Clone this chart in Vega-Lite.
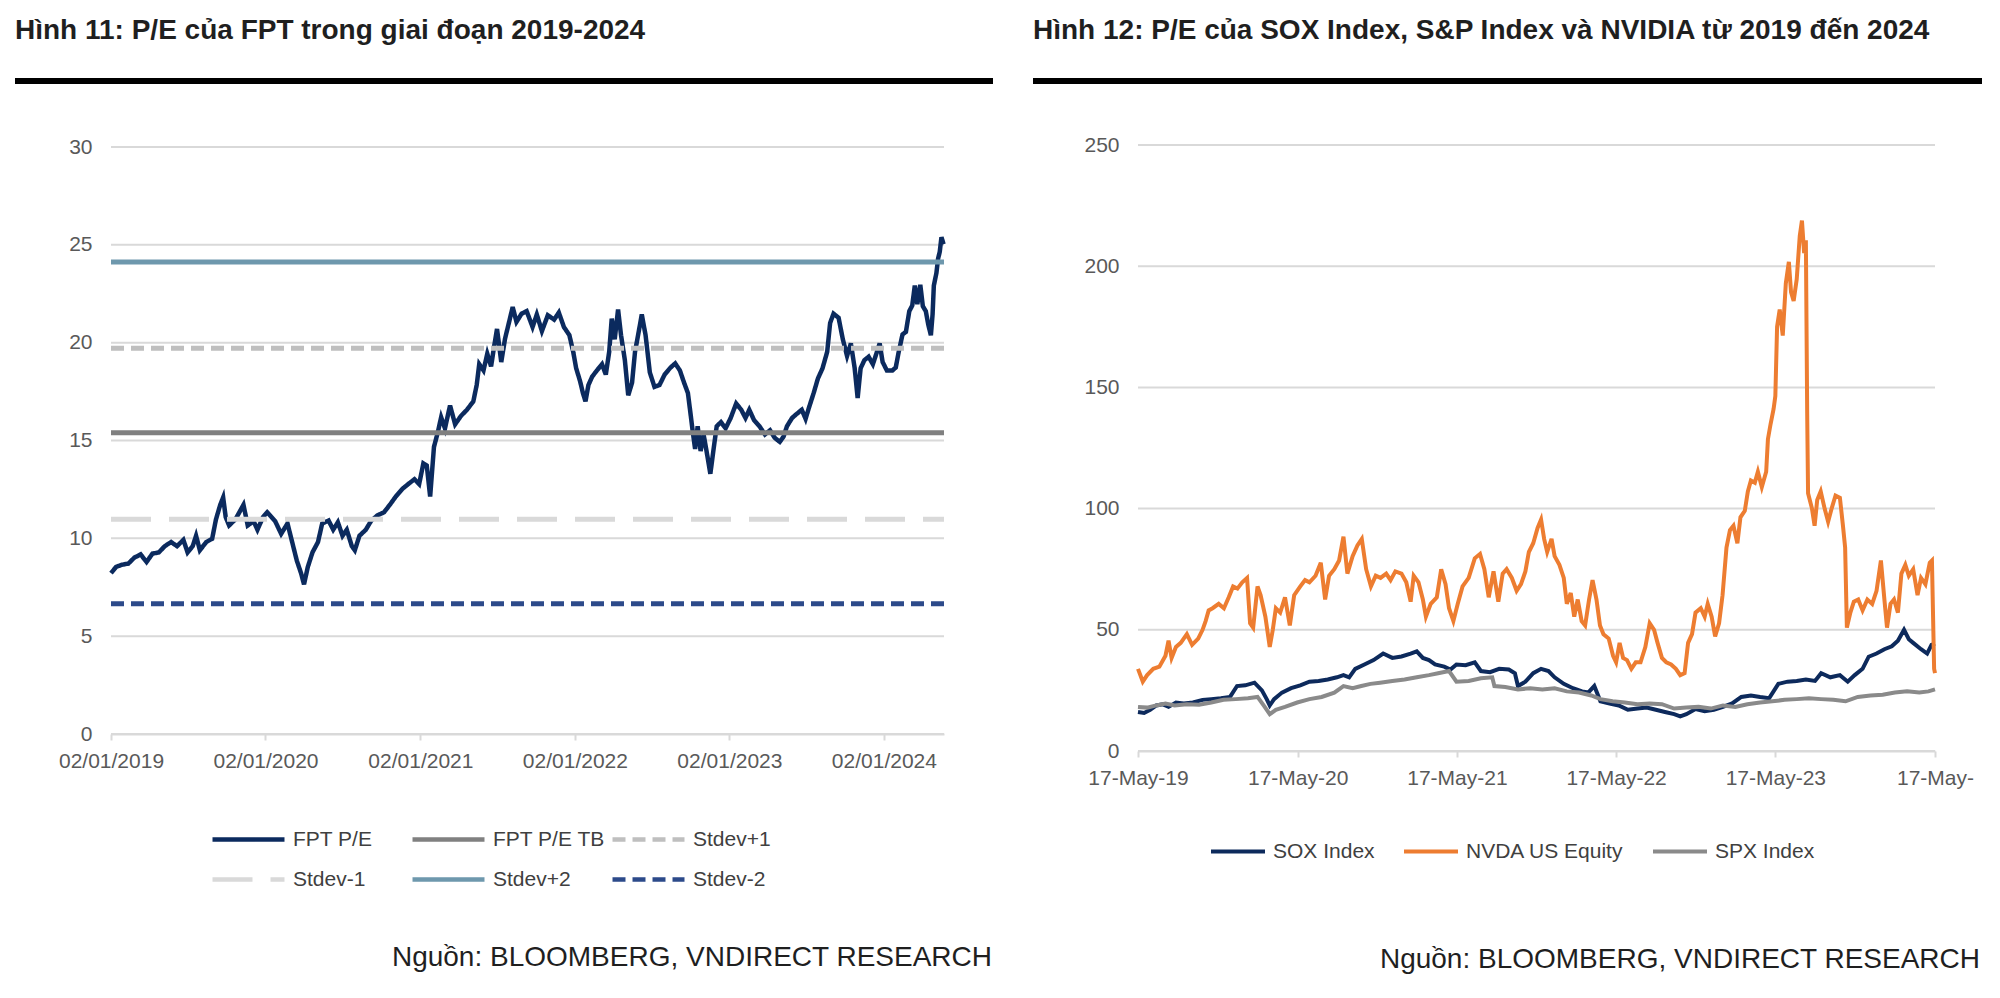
{
  "$schema": "https://vega.github.io/schema/vega-lite/v6.json",
  "background": "#ffffff",
  "padding": {"left": 15, "top": 17, "right": 5, "bottom": 0},
  "config": {
    "font": "Liberation Sans",
    "view": {"stroke": null},
    "axis": {"labelFont": "Liberation Sans", "labelFontSize": 21, "labelColor": "#595959", "title": null, "grid": false, "domainColor": "#d9d9d9", "domainWidth": 2, "tickColor": "#d9d9d9", "tickWidth": 2, "tickSize": 6},
    "axisY": {"domain": false, "ticks": false, "tickSize": 0, "labelPadding": 19},
    "axisX": {"labelPadding": 10, "labelFlush": false, "labelOverlap": false},
    "legend": {"labelFont": "Liberation Sans", "labelFontSize": 21, "labelColor": "#404040", "symbolType": "stroke", "title": null, "labelOffset": 6, "clipHeight": 21, "orient": "none", "direction": "horizontal"},
    "title": {"font": "Liberation Sans", "color": "#1f1f1f"}
  },
  "resolve": {"scale": {"color": "independent", "strokeDash": "independent"}, "legend": {"color": "independent", "strokeDash": "independent"}},
  "spacing": 40,
  "hconcat": [
    {
      "concat": [
        {
          "width": 978,
          "height": 6,
          "title": {"text": "Hình 11: P/E của FPT trong giai đoạn 2019-2024", "anchor": "start", "frame": "group", "fontSize": 28, "fontWeight": "bold", "offset": 33},
          "data": {"values": [{"k": 1}]},
          "mark": {"type": "rect", "color": "#000000"},
          "encoding": {}
        },
        {
          "width": 978,
          "height": 587,
          "title": {"text": "Nguồn: BLOOMBERG, VNDIRECT RESEARCH", "orient": "bottom", "anchor": "end", "frame": "group", "dx": -1, "offset": 173, "fontSize": 28, "fontWeight": "normal"},
          "layer": [
            {
              "data": {"values": [{"grid": 0}, {"grid": 5}, {"grid": 10}, {"grid": 15}, {"grid": 20}, {"grid": 25}, {"grid": 30}]},
              "mark": {"type": "rule", "color": "#d9d9d9", "strokeWidth": 2},
              "encoding": {
                "y": {"field": "grid", "type": "quantitative"},
                "x": {"datum": {"year": 2019, "month": 1, "date": 2, "utc": true}, "type": "temporal"},
                "x2": {"datum": {"year": 2024, "month": 5, "date": 23, "utc": true}}
              }
            },
            {
              "data": {"values": [
                {"date":"2019-01-02","series":"FPT P/E","pe":8.22},{"date":"2019-01-14","series":"FPT P/E","pe":8.54},{"date":"2019-01-28","series":"FPT P/E","pe":8.65},{"date":"2019-02-12","series":"FPT P/E","pe":8.71},{"date":"2019-02-26","series":"FPT P/E","pe":9.01},{"date":"2019-03-13","series":"FPT P/E","pe":9.18},{"date":"2019-03-27","series":"FPT P/E","pe":8.79},{"date":"2019-04-10","series":"FPT P/E","pe":9.22},{"date":"2019-04-25","series":"FPT P/E","pe":9.28},{"date":"2019-05-09","series":"FPT P/E","pe":9.60},{"date":"2019-05-24","series":"FPT P/E","pe":9.81},{"date":"2019-06-07","series":"FPT P/E","pe":9.60},{"date":"2019-06-22","series":"FPT P/E","pe":9.92},{"date":"2019-07-02","series":"FPT P/E","pe":9.28},{"date":"2019-07-14","series":"FPT P/E","pe":9.60},{"date":"2019-07-22","series":"FPT P/E","pe":10.13},{"date":"2019-07-31","series":"FPT P/E","pe":9.39},{"date":"2019-08-15","series":"FPT P/E","pe":9.81},{"date":"2019-08-29","series":"FPT P/E","pe":9.98},{"date":"2019-09-07","series":"FPT P/E","pe":10.97},{"date":"2019-09-17","series":"FPT P/E","pe":11.71},{"date":"2019-09-24","series":"FPT P/E","pe":12.09},{"date":"2019-09-30","series":"FPT P/E","pe":11.08},{"date":"2019-10-08","series":"FPT P/E","pe":10.66},{"date":"2019-10-23","series":"FPT P/E","pe":10.97},{"date":"2019-11-11","series":"FPT P/E","pe":11.71},{"date":"2019-11-21","series":"FPT P/E","pe":10.66},{"date":"2019-12-05","series":"FPT P/E","pe":10.87},{"date":"2019-12-14","series":"FPT P/E","pe":10.44},{"date":"2019-12-27","series":"FPT P/E","pe":11.08},
                {"date":"2020-01-06","series":"FPT P/E","pe":11.33},{"date":"2020-01-25","series":"FPT P/E","pe":10.87},{"date":"2020-02-08","series":"FPT P/E","pe":10.23},{"date":"2020-02-23","series":"FPT P/E","pe":10.76},{"date":"2020-03-05","series":"FPT P/E","pe":9.81},{"date":"2020-03-16","series":"FPT P/E","pe":8.86},{"date":"2020-03-26","series":"FPT P/E","pe":8.22},{"date":"2020-04-02","series":"FPT P/E","pe":7.65},{"date":"2020-04-11","series":"FPT P/E","pe":8.54},{"date":"2020-04-22","series":"FPT P/E","pe":9.28},{"date":"2020-05-05","series":"FPT P/E","pe":9.81},{"date":"2020-05-15","series":"FPT P/E","pe":10.76},{"date":"2020-05-30","series":"FPT P/E","pe":10.91},{"date":"2020-06-10","series":"FPT P/E","pe":10.44},{"date":"2020-06-21","series":"FPT P/E","pe":10.82},{"date":"2020-07-02","series":"FPT P/E","pe":10.13},{"date":"2020-07-12","series":"FPT P/E","pe":10.44},{"date":"2020-07-24","series":"FPT P/E","pe":9.60},{"date":"2020-07-31","series":"FPT P/E","pe":9.39},{"date":"2020-08-11","series":"FPT P/E","pe":10.13},{"date":"2020-08-26","series":"FPT P/E","pe":10.44},{"date":"2020-09-08","series":"FPT P/E","pe":10.91},{"date":"2020-09-23","series":"FPT P/E","pe":11.18},{"date":"2020-10-08","series":"FPT P/E","pe":11.33},{"date":"2020-10-23","series":"FPT P/E","pe":11.75},{"date":"2020-11-05","series":"FPT P/E","pe":12.14},{"date":"2020-11-20","series":"FPT P/E","pe":12.52},{"date":"2020-12-04","series":"FPT P/E","pe":12.77},{"date":"2020-12-19","series":"FPT P/E","pe":13.02},{"date":"2020-12-30","series":"FPT P/E","pe":12.77},
                {"date":"2021-01-09","series":"FPT P/E","pe":13.83},{"date":"2021-01-17","series":"FPT P/E","pe":13.72},{"date":"2021-01-25","series":"FPT P/E","pe":12.14},{"date":"2021-02-03","series":"FPT P/E","pe":14.67},{"date":"2021-02-12","series":"FPT P/E","pe":15.41},{"date":"2021-02-20","series":"FPT P/E","pe":16.19},{"date":"2021-03-01","series":"FPT P/E","pe":15.62},{"date":"2021-03-13","series":"FPT P/E","pe":16.79},{"date":"2021-03-25","series":"FPT P/E","pe":15.83},{"date":"2021-04-08","series":"FPT P/E","pe":16.26},{"date":"2021-04-22","series":"FPT P/E","pe":16.57},{"date":"2021-05-07","series":"FPT P/E","pe":17.00},{"date":"2021-05-15","series":"FPT P/E","pe":17.84},{"date":"2021-05-21","series":"FPT P/E","pe":18.90},{"date":"2021-05-31","series":"FPT P/E","pe":18.58},{"date":"2021-06-09","series":"FPT P/E","pe":19.43},{"date":"2021-06-18","series":"FPT P/E","pe":18.79},{"date":"2021-06-25","series":"FPT P/E","pe":19.79},{"date":"2021-07-02","series":"FPT P/E","pe":20.70},{"date":"2021-07-12","series":"FPT P/E","pe":19.01},{"date":"2021-07-21","series":"FPT P/E","pe":20.21},{"date":"2021-07-30","series":"FPT P/E","pe":21.01},{"date":"2021-08-08","series":"FPT P/E","pe":21.82},{"date":"2021-08-17","series":"FPT P/E","pe":21.06},{"date":"2021-08-29","series":"FPT P/E","pe":21.48},{"date":"2021-09-10","series":"FPT P/E","pe":21.61},{"date":"2021-09-24","series":"FPT P/E","pe":20.80},{"date":"2021-10-04","series":"FPT P/E","pe":21.44},{"date":"2021-10-16","series":"FPT P/E","pe":20.59},{"date":"2021-10-30","series":"FPT P/E","pe":21.40},{"date":"2021-11-14","series":"FPT P/E","pe":21.18},{"date":"2021-11-25","series":"FPT P/E","pe":21.54},{"date":"2021-12-07","series":"FPT P/E","pe":20.80},{"date":"2021-12-20","series":"FPT P/E","pe":20.38},{"date":"2021-12-29","series":"FPT P/E","pe":19.53},
                {"date":"2022-01-05","series":"FPT P/E","pe":18.69},{"date":"2022-01-14","series":"FPT P/E","pe":18.05},{"date":"2022-01-21","series":"FPT P/E","pe":17.42},{"date":"2022-01-27","series":"FPT P/E","pe":17.00},{"date":"2022-02-03","series":"FPT P/E","pe":17.84},{"date":"2022-02-12","series":"FPT P/E","pe":18.27},{"date":"2022-02-23","series":"FPT P/E","pe":18.58},{"date":"2022-03-07","series":"FPT P/E","pe":18.90},{"date":"2022-03-16","series":"FPT P/E","pe":18.37},{"date":"2022-03-24","series":"FPT P/E","pe":19.53},{"date":"2022-03-30","series":"FPT P/E","pe":21.23},{"date":"2022-04-06","series":"FPT P/E","pe":20.17},{"date":"2022-04-14","series":"FPT P/E","pe":21.69},{"date":"2022-04-21","series":"FPT P/E","pe":20.38},{"date":"2022-04-30","series":"FPT P/E","pe":19.11},{"date":"2022-05-08","series":"FPT P/E","pe":17.31},{"date":"2022-05-17","series":"FPT P/E","pe":17.95},{"date":"2022-05-24","series":"FPT P/E","pe":19.53},{"date":"2022-06-02","series":"FPT P/E","pe":20.59},{"date":"2022-06-09","series":"FPT P/E","pe":21.44},{"date":"2022-06-18","series":"FPT P/E","pe":20.38},{"date":"2022-06-28","series":"FPT P/E","pe":18.48},{"date":"2022-07-09","series":"FPT P/E","pe":17.74},{"date":"2022-07-21","series":"FPT P/E","pe":17.84},{"date":"2022-08-02","series":"FPT P/E","pe":18.37},{"date":"2022-08-16","series":"FPT P/E","pe":18.73},{"date":"2022-08-27","series":"FPT P/E","pe":18.94},{"date":"2022-09-07","series":"FPT P/E","pe":18.58},{"date":"2022-09-17","series":"FPT P/E","pe":17.95},{"date":"2022-09-26","series":"FPT P/E","pe":17.42},{"date":"2022-10-01","series":"FPT P/E","pe":16.57},{"date":"2022-10-07","series":"FPT P/E","pe":15.52},{"date":"2022-10-13","series":"FPT P/E","pe":14.57},{"date":"2022-10-19","series":"FPT P/E","pe":15.73},{"date":"2022-10-26","series":"FPT P/E","pe":14.46},{"date":"2022-11-02","series":"FPT P/E","pe":15.31},{"date":"2022-11-09","series":"FPT P/E","pe":14.46},{"date":"2022-11-18","series":"FPT P/E","pe":13.30},{"date":"2022-11-25","series":"FPT P/E","pe":14.46},{"date":"2022-12-03","series":"FPT P/E","pe":15.73},{"date":"2022-12-13","series":"FPT P/E","pe":15.94},{"date":"2022-12-24","series":"FPT P/E","pe":15.62},
                {"date":"2023-01-05","series":"FPT P/E","pe":16.15},{"date":"2023-01-18","series":"FPT P/E","pe":16.89},{"date":"2023-01-30","series":"FPT P/E","pe":16.57},{"date":"2023-02-09","series":"FPT P/E","pe":16.15},{"date":"2023-02-18","series":"FPT P/E","pe":16.57},{"date":"2023-03-01","series":"FPT P/E","pe":16.05},{"date":"2023-03-14","series":"FPT P/E","pe":15.73},{"date":"2023-03-27","series":"FPT P/E","pe":15.31},{"date":"2023-04-08","series":"FPT P/E","pe":15.52},{"date":"2023-04-19","series":"FPT P/E","pe":15.14},{"date":"2023-05-01","series":"FPT P/E","pe":14.93},{"date":"2023-05-10","series":"FPT P/E","pe":15.20},{"date":"2023-05-18","series":"FPT P/E","pe":15.73},{"date":"2023-05-30","series":"FPT P/E","pe":16.15},{"date":"2023-06-10","series":"FPT P/E","pe":16.36},{"date":"2023-06-22","series":"FPT P/E","pe":16.57},{"date":"2023-07-01","series":"FPT P/E","pe":16.11},{"date":"2023-07-09","series":"FPT P/E","pe":16.68},{"date":"2023-07-20","series":"FPT P/E","pe":17.42},{"date":"2023-07-30","series":"FPT P/E","pe":18.16},{"date":"2023-08-10","series":"FPT P/E","pe":18.69},{"date":"2023-08-21","series":"FPT P/E","pe":19.53},{"date":"2023-08-28","series":"FPT P/E","pe":21.01},{"date":"2023-09-05","series":"FPT P/E","pe":21.48},{"date":"2023-09-17","series":"FPT P/E","pe":21.27},{"date":"2023-09-27","series":"FPT P/E","pe":20.17},{"date":"2023-10-07","series":"FPT P/E","pe":19.32},{"date":"2023-10-16","series":"FPT P/E","pe":19.96},{"date":"2023-10-25","series":"FPT P/E","pe":18.69},{"date":"2023-11-01","series":"FPT P/E","pe":17.17},{"date":"2023-11-08","series":"FPT P/E","pe":18.69},{"date":"2023-11-17","series":"FPT P/E","pe":19.11},{"date":"2023-11-27","series":"FPT P/E","pe":19.28},{"date":"2023-12-07","series":"FPT P/E","pe":18.90},{"date":"2023-12-16","series":"FPT P/E","pe":19.49},{"date":"2023-12-23","series":"FPT P/E","pe":19.96},{"date":"2023-12-30","series":"FPT P/E","pe":19.01},
                {"date":"2024-01-09","series":"FPT P/E","pe":18.58},{"date":"2024-01-22","series":"FPT P/E","pe":18.58},{"date":"2024-01-30","series":"FPT P/E","pe":18.73},{"date":"2024-02-06","series":"FPT P/E","pe":19.53},{"date":"2024-02-15","series":"FPT P/E","pe":20.42},{"date":"2024-02-23","series":"FPT P/E","pe":20.55},{"date":"2024-03-02","series":"FPT P/E","pe":21.61},{"date":"2024-03-09","series":"FPT P/E","pe":21.90},{"date":"2024-03-15","series":"FPT P/E","pe":22.92},{"date":"2024-03-21","series":"FPT P/E","pe":21.97},{"date":"2024-03-28","series":"FPT P/E","pe":22.96},{"date":"2024-04-03","series":"FPT P/E","pe":21.86},{"date":"2024-04-10","series":"FPT P/E","pe":21.61},{"date":"2024-04-16","series":"FPT P/E","pe":20.91},{"date":"2024-04-22","series":"FPT P/E","pe":20.38},{"date":"2024-04-26","series":"FPT P/E","pe":21.44},{"date":"2024-04-29","series":"FPT P/E","pe":22.92},{"date":"2024-05-05","series":"FPT P/E","pe":23.55},{"date":"2024-05-09","series":"FPT P/E","pe":24.29},{"date":"2024-05-13","series":"FPT P/E","pe":24.65},{"date":"2024-05-17","series":"FPT P/E","pe":25.39},{"date":"2024-05-22","series":"FPT P/E","pe":25.03}
              ]},
              "mark": {"type": "line", "strokeWidth": 4.5},
              "encoding": {
                "x": {"field": "date", "type": "temporal",
                      "scale": {"type": "utc", "range": [96, 929], "domain": [{"year": 2019, "month": 1, "date": 2, "utc": true}, {"year": 2024, "month": 5, "date": 23, "utc": true}]},
                      "axis": {"format": "%d/%m/%Y", "values": [{"year": 2019, "month": 1, "date": 2, "utc": true}, {"year": 2020, "month": 1, "date": 2, "utc": true}, {"year": 2021, "month": 1, "date": 2, "utc": true}, {"year": 2022, "month": 1, "date": 2, "utc": true}, {"year": 2023, "month": 1, "date": 2, "utc": true}, {"year": 2024, "month": 1, "date": 2, "utc": true}]}},
                "y": {"field": "pe", "type": "quantitative", "scale": {"domain": [0, 30], "nice": false}, "axis": {"values": [0, 5, 10, 15, 20, 25, 30], "offset": -96}},
                "color": {"field": "series", "type": "nominal",
                          "scale": {"domain": ["FPT P/E", "FPT P/E TB", "Stdev+1", "Stdev-1", "Stdev+2", "Stdev-2"], "range": ["#0b2a5e", "#808080", "#bfbfbf", "#d9d9d9", "#6e98ad", "#2c4a8a"]},
                          "legend": {"columns": 3, "gridAlign": "all", "columnPadding": 4, "rowPadding": 18, "symbolSize": 5184, "symbolStrokeWidth": 4.5, "legendX": 195, "legendY": 751}},
                "strokeDash": {"field": "series", "type": "nominal",
                          "scale": {"domain": ["FPT P/E", "FPT P/E TB", "Stdev+1", "Stdev-1", "Stdev+2", "Stdev-2"], "range": [[1, 0], [1, 0], [13, 7], [40, 18], [1, 0], [13, 7]]},
                          "legend": {"columns": 3, "gridAlign": "all", "columnPadding": 4, "rowPadding": 18, "symbolSize": 5184, "symbolStrokeWidth": 4.5, "legendX": 195, "legendY": 751}}
              }
            },
            {
              "data": {"values": [
                {"series": "FPT P/E TB", "pe": 15.39},
                {"series": "Stdev+1", "pe": 19.72},
                {"series": "Stdev-1", "pe": 10.97},
                {"series": "Stdev+2", "pe": 24.12},
                {"series": "Stdev-2", "pe": 6.66}
              ]},
              "mark": {"type": "rule", "strokeWidth": 5},
              "encoding": {
                "y": {"field": "pe", "type": "quantitative"},
                "x": {"datum": {"year": 2019, "month": 1, "date": 2, "utc": true}, "type": "temporal"},
                "x2": {"datum": {"year": 2024, "month": 5, "date": 23, "utc": true}},
                "color": {"field": "series", "type": "nominal"},
                "strokeDash": {"field": "series", "type": "nominal"}
              }
            }
          ]
        }
      ],
      "columns": 1,
      "align": "none",
      "spacing": 52
    },
    {
      "concat": [
        {
          "width": 949,
          "height": 6,
          "title": {"text": "Hình 12: P/E của SOX Index, S&P Index và NVIDIA từ 2019 đến 2024", "anchor": "start", "frame": "group", "fontSize": 28, "fontWeight": "bold", "offset": 33},
          "data": {"values": [{"k": 1}]},
          "mark": {"type": "rect", "color": "#000000"},
          "encoding": {}
        },
        {
          "width": 949,
          "height": 606,
          "title": {"text": "Nguồn: BLOOMBERG, VNDIRECT RESEARCH", "orient": "bottom", "anchor": "end", "frame": "group", "dx": -2, "offset": 158, "fontSize": 28, "fontWeight": "normal"},
          "layer": [
            {
              "data": {"values": [{"grid": 0}, {"grid": 50}, {"grid": 100}, {"grid": 150}, {"grid": 200}, {"grid": 250}]},
              "mark": {"type": "rule", "color": "#d9d9d9", "strokeWidth": 2},
              "encoding": {
                "y": {"field": "grid", "type": "quantitative"},
                "x": {"datum": {"year": 2019, "month": 5, "date": 17, "utc": true}, "type": "temporal"},
                "x2": {"datum": {"year": 2024, "month": 5, "date": 17, "utc": true}}
              }
            },
            {
              "data": {"values": [
                {"date":"2019-05-17","series":"SOX Index","pe":16.1},{"date":"2019-05-31","series":"SOX Index","pe":15.7},{"date":"2019-06-14","series":"SOX Index","pe":17.0},{"date":"2019-06-28","series":"SOX Index","pe":18.8},{"date":"2019-07-12","series":"SOX Index","pe":19.3},{"date":"2019-07-26","series":"SOX Index","pe":18.2},{"date":"2019-08-12","series":"SOX Index","pe":20.0},{"date":"2019-08-30","series":"SOX Index","pe":19.6},{"date":"2019-09-20","series":"SOX Index","pe":20.0},{"date":"2019-10-12","series":"SOX Index","pe":21.1},{"date":"2019-11-01","series":"SOX Index","pe":21.4},{"date":"2019-11-23","series":"SOX Index","pe":21.8},{"date":"2019-12-14","series":"SOX Index","pe":22.3},{"date":"2019-12-30","series":"SOX Index","pe":26.8},{"date":"2020-01-18","series":"SOX Index","pe":27.1},{"date":"2020-02-08","series":"SOX Index","pe":28.2},{"date":"2020-02-25","series":"SOX Index","pe":25.0},{"date":"2020-03-07","series":"SOX Index","pe":21.4},{"date":"2020-03-14","series":"SOX Index","pe":18.8},{"date":"2020-03-24","series":"SOX Index","pe":21.4},{"date":"2020-04-11","series":"SOX Index","pe":24.1},{"date":"2020-05-02","series":"SOX Index","pe":25.9},{"date":"2020-05-23","series":"SOX Index","pe":27.1},{"date":"2020-06-13","series":"SOX Index","pe":28.6},{"date":"2020-07-04","series":"SOX Index","pe":28.9},{"date":"2020-07-25","series":"SOX Index","pe":29.5},{"date":"2020-08-15","series":"SOX Index","pe":30.4},{"date":"2020-08-30","series":"SOX Index","pe":31.3},{"date":"2020-09-12","series":"SOX Index","pe":30.4},{"date":"2020-09-26","series":"SOX Index","pe":33.9},{"date":"2020-10-17","series":"SOX Index","pe":35.7},{"date":"2020-11-07","series":"SOX Index","pe":37.5},{"date":"2020-11-29","series":"SOX Index","pe":40.2},{"date":"2020-12-20","series":"SOX Index","pe":38.4},{"date":"2021-01-10","series":"SOX Index","pe":39.0},{"date":"2021-01-31","series":"SOX Index","pe":40.2},{"date":"2021-02-14","series":"SOX Index","pe":41.1},{"date":"2021-02-28","series":"SOX Index","pe":38.4},{"date":"2021-03-14","series":"SOX Index","pe":37.5},{"date":"2021-03-28","series":"SOX Index","pe":35.7},{"date":"2021-04-18","series":"SOX Index","pe":34.8},{"date":"2021-05-02","series":"SOX Index","pe":33.6},{"date":"2021-05-16","series":"SOX Index","pe":35.7},{"date":"2021-06-06","series":"SOX Index","pe":35.4},{"date":"2021-06-27","series":"SOX Index","pe":36.6},{"date":"2021-07-11","series":"SOX Index","pe":33.0},{"date":"2021-08-01","series":"SOX Index","pe":32.5},{"date":"2021-08-22","series":"SOX Index","pe":33.9},{"date":"2021-09-13","series":"SOX Index","pe":33.6},{"date":"2021-09-27","series":"SOX Index","pe":32.1},{"date":"2021-10-04","series":"SOX Index","pe":26.8},{"date":"2021-10-21","series":"SOX Index","pe":28.6},{"date":"2021-11-08","series":"SOX Index","pe":32.1},{"date":"2021-11-26","series":"SOX Index","pe":33.9},{"date":"2021-12-13","series":"SOX Index","pe":33.0},{"date":"2021-12-27","series":"SOX Index","pe":30.4},{"date":"2022-01-17","series":"SOX Index","pe":27.7},{"date":"2022-02-07","series":"SOX Index","pe":25.9},{"date":"2022-02-28","series":"SOX Index","pe":24.6},{"date":"2022-03-14","series":"SOX Index","pe":24.1},{"date":"2022-03-28","series":"SOX Index","pe":26.8},{"date":"2022-04-11","series":"SOX Index","pe":20.5},{"date":"2022-05-02","series":"SOX Index","pe":19.6},{"date":"2022-05-23","series":"SOX Index","pe":18.8},{"date":"2022-06-13","series":"SOX Index","pe":17.0},{"date":"2022-07-05","series":"SOX Index","pe":17.5},{"date":"2022-07-26","series":"SOX Index","pe":17.9},{"date":"2022-08-16","series":"SOX Index","pe":17.0},{"date":"2022-09-06","series":"SOX Index","pe":16.1},{"date":"2022-09-27","series":"SOX Index","pe":15.2},{"date":"2022-10-11","series":"SOX Index","pe":14.3},{"date":"2022-10-25","series":"SOX Index","pe":15.2},{"date":"2022-11-15","series":"SOX Index","pe":17.3},{"date":"2022-12-06","series":"SOX Index","pe":16.4},{"date":"2022-12-27","series":"SOX Index","pe":17.0},{"date":"2023-01-17","series":"SOX Index","pe":18.2},{"date":"2023-02-07","series":"SOX Index","pe":19.6},{"date":"2023-02-28","series":"SOX Index","pe":22.3},{"date":"2023-03-22","series":"SOX Index","pe":22.9},{"date":"2023-04-12","series":"SOX Index","pe":22.3},{"date":"2023-05-03","series":"SOX Index","pe":21.8},{"date":"2023-05-24","series":"SOX Index","pe":27.7},{"date":"2023-06-14","series":"SOX Index","pe":28.6},{"date":"2023-07-05","series":"SOX Index","pe":28.9},{"date":"2023-07-26","series":"SOX Index","pe":29.5},{"date":"2023-08-16","series":"SOX Index","pe":28.9},{"date":"2023-08-30","series":"SOX Index","pe":32.1},{"date":"2023-09-20","series":"SOX Index","pe":30.4},{"date":"2023-10-12","series":"SOX Index","pe":31.3},{"date":"2023-10-30","series":"SOX Index","pe":28.6},{"date":"2023-11-15","series":"SOX Index","pe":31.3},{"date":"2023-12-03","series":"SOX Index","pe":33.9},{"date":"2023-12-17","series":"SOX Index","pe":38.9},{"date":"2024-01-04","series":"SOX Index","pe":40.2},{"date":"2024-01-22","series":"SOX Index","pe":42.0},{"date":"2024-02-08","series":"SOX Index","pe":43.2},{"date":"2024-02-22","series":"SOX Index","pe":45.5},{"date":"2024-03-07","series":"SOX Index","pe":50.0},{"date":"2024-03-18","series":"SOX Index","pe":46.1},{"date":"2024-03-28","series":"SOX Index","pe":44.6},{"date":"2024-04-15","series":"SOX Index","pe":42.0},{"date":"2024-04-29","series":"SOX Index","pe":40.2},{"date":"2024-05-09","series":"SOX Index","pe":43.8},{"date":"2024-05-17","series":"SOX Index","pe":44.3},
                {"date":"2019-05-17","series":"SPX Index","pe":18.2},{"date":"2019-06-07","series":"SPX Index","pe":17.9},{"date":"2019-06-28","series":"SPX Index","pe":18.8},{"date":"2019-07-19","series":"SPX Index","pe":19.6},{"date":"2019-08-09","series":"SPX Index","pe":18.8},{"date":"2019-09-06","series":"SPX Index","pe":19.3},{"date":"2019-10-04","series":"SPX Index","pe":19.1},{"date":"2019-11-01","series":"SPX Index","pe":20.0},{"date":"2019-11-29","series":"SPX Index","pe":21.1},{"date":"2019-12-27","series":"SPX Index","pe":21.4},{"date":"2020-01-24","series":"SPX Index","pe":21.8},{"date":"2020-02-15","series":"SPX Index","pe":22.3},{"date":"2020-02-29","series":"SPX Index","pe":18.8},{"date":"2020-03-14","series":"SPX Index","pe":15.2},{"date":"2020-03-28","series":"SPX Index","pe":17.0},{"date":"2020-04-18","series":"SPX Index","pe":18.2},{"date":"2020-05-16","series":"SPX Index","pe":20.0},{"date":"2020-06-13","series":"SPX Index","pe":21.4},{"date":"2020-07-11","series":"SPX Index","pe":22.3},{"date":"2020-08-09","series":"SPX Index","pe":24.1},{"date":"2020-08-30","series":"SPX Index","pe":26.8},{"date":"2020-09-20","series":"SPX Index","pe":25.9},{"date":"2020-10-10","series":"SPX Index","pe":26.8},{"date":"2020-10-31","series":"SPX Index","pe":27.7},{"date":"2020-11-22","series":"SPX Index","pe":28.2},{"date":"2020-12-20","series":"SPX Index","pe":28.9},{"date":"2021-01-17","series":"SPX Index","pe":29.5},{"date":"2021-02-14","series":"SPX Index","pe":30.4},{"date":"2021-03-14","series":"SPX Index","pe":31.3},{"date":"2021-04-04","series":"SPX Index","pe":32.1},{"date":"2021-04-29","series":"SPX Index","pe":33.0},{"date":"2021-05-16","series":"SPX Index","pe":28.6},{"date":"2021-06-13","series":"SPX Index","pe":28.9},{"date":"2021-07-11","series":"SPX Index","pe":30.0},{"date":"2021-08-06","series":"SPX Index","pe":30.4},{"date":"2021-08-11","series":"SPX Index","pe":26.8},{"date":"2021-09-05","series":"SPX Index","pe":26.4},{"date":"2021-10-04","series":"SPX Index","pe":25.4},{"date":"2021-11-01","series":"SPX Index","pe":25.9},{"date":"2021-11-29","series":"SPX Index","pe":25.4},{"date":"2021-12-27","series":"SPX Index","pe":25.9},{"date":"2022-01-24","series":"SPX Index","pe":24.6},{"date":"2022-02-21","series":"SPX Index","pe":24.1},{"date":"2022-03-21","series":"SPX Index","pe":22.9},{"date":"2022-04-11","series":"SPX Index","pe":21.4},{"date":"2022-05-09","series":"SPX Index","pe":20.5},{"date":"2022-06-06","series":"SPX Index","pe":20.0},{"date":"2022-07-05","series":"SPX Index","pe":19.3},{"date":"2022-08-02","series":"SPX Index","pe":19.6},{"date":"2022-08-30","series":"SPX Index","pe":19.3},{"date":"2022-09-27","series":"SPX Index","pe":17.5},{"date":"2022-10-25","series":"SPX Index","pe":17.9},{"date":"2022-11-22","series":"SPX Index","pe":18.2},{"date":"2022-12-20","series":"SPX Index","pe":17.5},{"date":"2023-01-17","series":"SPX Index","pe":18.8},{"date":"2023-02-14","series":"SPX Index","pe":18.2},{"date":"2023-03-14","series":"SPX Index","pe":19.3},{"date":"2023-04-12","series":"SPX Index","pe":20.0},{"date":"2023-05-10","series":"SPX Index","pe":20.5},{"date":"2023-06-07","series":"SPX Index","pe":21.1},{"date":"2023-07-05","series":"SPX Index","pe":21.4},{"date":"2023-08-02","series":"SPX Index","pe":21.8},{"date":"2023-08-30","series":"SPX Index","pe":21.4},{"date":"2023-09-27","series":"SPX Index","pe":21.1},{"date":"2023-10-25","series":"SPX Index","pe":20.5},{"date":"2023-11-22","series":"SPX Index","pe":22.3},{"date":"2023-12-21","series":"SPX Index","pe":22.9},{"date":"2024-01-18","series":"SPX Index","pe":23.2},{"date":"2024-02-15","series":"SPX Index","pe":24.1},{"date":"2024-03-14","series":"SPX Index","pe":24.6},{"date":"2024-04-11","series":"SPX Index","pe":24.1},{"date":"2024-05-02","series":"SPX Index","pe":24.6},{"date":"2024-05-17","series":"SPX Index","pe":25.4},
                {"date":"2019-05-17","series":"NVDA US Equity","pe":33.9},{"date":"2019-05-28","series":"NVDA US Equity","pe":28.6},{"date":"2019-06-07","series":"NVDA US Equity","pe":31.3},{"date":"2019-06-21","series":"NVDA US Equity","pe":33.9},{"date":"2019-07-05","series":"NVDA US Equity","pe":34.8},{"date":"2019-07-19","series":"NVDA US Equity","pe":39.3},{"date":"2019-07-26","series":"NVDA US Equity","pe":45.5},{"date":"2019-08-02","series":"NVDA US Equity","pe":38.4},{"date":"2019-08-12","series":"NVDA US Equity","pe":42.9},{"date":"2019-08-23","series":"NVDA US Equity","pe":44.6},{"date":"2019-09-06","series":"NVDA US Equity","pe":48.2},{"date":"2019-09-18","series":"NVDA US Equity","pe":43.8},{"date":"2019-10-02","series":"NVDA US Equity","pe":46.4},{"date":"2019-10-12","series":"NVDA US Equity","pe":50.0},{"date":"2019-10-19","series":"NVDA US Equity","pe":53.6},{"date":"2019-10-26","series":"NVDA US Equity","pe":58.0},{"date":"2019-11-04","series":"NVDA US Equity","pe":58.9},{"date":"2019-11-18","series":"NVDA US Equity","pe":60.7},{"date":"2019-11-30","series":"NVDA US Equity","pe":58.9},{"date":"2019-12-11","series":"NVDA US Equity","pe":63.4},{"date":"2019-12-21","series":"NVDA US Equity","pe":67.9},{"date":"2019-12-31","series":"NVDA US Equity","pe":67.0},
                {"date":"2020-01-11","series":"NVDA US Equity","pe":69.6},{"date":"2020-01-22","series":"NVDA US Equity","pe":71.4},{"date":"2020-01-29","series":"NVDA US Equity","pe":52.7},{"date":"2020-02-05","series":"NVDA US Equity","pe":50.9},{"date":"2020-02-15","series":"NVDA US Equity","pe":67.9},{"date":"2020-02-22","series":"NVDA US Equity","pe":64.3},{"date":"2020-03-04","series":"NVDA US Equity","pe":55.4},{"date":"2020-03-14","series":"NVDA US Equity","pe":42.9},{"date":"2020-03-21","series":"NVDA US Equity","pe":50.0},{"date":"2020-03-28","series":"NVDA US Equity","pe":58.9},{"date":"2020-04-07","series":"NVDA US Equity","pe":57.1},{"date":"2020-04-18","series":"NVDA US Equity","pe":63.4},{"date":"2020-04-29","series":"NVDA US Equity","pe":51.8},{"date":"2020-05-09","series":"NVDA US Equity","pe":64.3},{"date":"2020-05-23","series":"NVDA US Equity","pe":67.9},{"date":"2020-06-03","series":"NVDA US Equity","pe":70.5},{"date":"2020-06-13","series":"NVDA US Equity","pe":69.6},{"date":"2020-06-27","series":"NVDA US Equity","pe":72.3},{"date":"2020-07-09","series":"NVDA US Equity","pe":77.7},{"date":"2020-07-19","series":"NVDA US Equity","pe":62.5},{"date":"2020-07-28","series":"NVDA US Equity","pe":72.3},{"date":"2020-08-09","series":"NVDA US Equity","pe":75.0},{"date":"2020-08-20","series":"NVDA US Equity","pe":78.6},{"date":"2020-08-30","series":"NVDA US Equity","pe":88.4},{"date":"2020-09-08","series":"NVDA US Equity","pe":73.2},{"date":"2020-09-20","series":"NVDA US Equity","pe":80.4},{"date":"2020-10-01","series":"NVDA US Equity","pe":84.8},{"date":"2020-10-11","series":"NVDA US Equity","pe":87.5},{"date":"2020-10-21","series":"NVDA US Equity","pe":75.0},{"date":"2020-11-01","series":"NVDA US Equity","pe":67.9},{"date":"2020-11-12","series":"NVDA US Equity","pe":72.3},{"date":"2020-11-23","series":"NVDA US Equity","pe":71.4},{"date":"2020-12-06","series":"NVDA US Equity","pe":73.2},{"date":"2020-12-16","series":"NVDA US Equity","pe":70.5},{"date":"2020-12-27","series":"NVDA US Equity","pe":74.1},
                {"date":"2021-01-10","series":"NVDA US Equity","pe":73.2},{"date":"2021-01-21","series":"NVDA US Equity","pe":69.6},{"date":"2021-01-31","series":"NVDA US Equity","pe":61.6},{"date":"2021-02-07","series":"NVDA US Equity","pe":72.3},{"date":"2021-02-18","series":"NVDA US Equity","pe":69.6},{"date":"2021-02-28","series":"NVDA US Equity","pe":62.5},{"date":"2021-03-07","series":"NVDA US Equity","pe":55.4},{"date":"2021-03-18","series":"NVDA US Equity","pe":60.7},{"date":"2021-04-01","series":"NVDA US Equity","pe":63.4},{"date":"2021-04-11","series":"NVDA US Equity","pe":75.0},{"date":"2021-04-21","series":"NVDA US Equity","pe":68.8},{"date":"2021-04-29","series":"NVDA US Equity","pe":58.9},{"date":"2021-05-09","series":"NVDA US Equity","pe":53.6},{"date":"2021-05-19","series":"NVDA US Equity","pe":60.7},{"date":"2021-05-30","series":"NVDA US Equity","pe":67.9},{"date":"2021-06-13","series":"NVDA US Equity","pe":71.4},{"date":"2021-06-27","series":"NVDA US Equity","pe":79.5},{"date":"2021-07-09","series":"NVDA US Equity","pe":81.3},{"date":"2021-07-19","series":"NVDA US Equity","pe":75.0},{"date":"2021-07-29","series":"NVDA US Equity","pe":63.4},{"date":"2021-08-09","series":"NVDA US Equity","pe":74.1},{"date":"2021-08-20","series":"NVDA US Equity","pe":61.6},{"date":"2021-08-30","series":"NVDA US Equity","pe":73.2},{"date":"2021-09-08","series":"NVDA US Equity","pe":75.0},{"date":"2021-09-20","series":"NVDA US Equity","pe":71.4},{"date":"2021-10-01","series":"NVDA US Equity","pe":66.1},{"date":"2021-10-11","series":"NVDA US Equity","pe":68.8},{"date":"2021-10-21","series":"NVDA US Equity","pe":74.1},{"date":"2021-10-29","series":"NVDA US Equity","pe":82.1},{"date":"2021-11-08","series":"NVDA US Equity","pe":85.7},{"date":"2021-11-18","series":"NVDA US Equity","pe":92.0},{"date":"2021-11-26","series":"NVDA US Equity","pe":95.5},{"date":"2021-12-03","series":"NVDA US Equity","pe":87.5},{"date":"2021-12-10","series":"NVDA US Equity","pe":82.1},{"date":"2021-12-20","series":"NVDA US Equity","pe":87.5},{"date":"2021-12-27","series":"NVDA US Equity","pe":80.4},
                {"date":"2022-01-07","series":"NVDA US Equity","pe":76.8},{"date":"2022-01-17","series":"NVDA US Equity","pe":71.4},{"date":"2022-01-24","series":"NVDA US Equity","pe":60.7},{"date":"2022-02-02","series":"NVDA US Equity","pe":65.2},{"date":"2022-02-10","series":"NVDA US Equity","pe":55.4},{"date":"2022-02-18","series":"NVDA US Equity","pe":62.5},{"date":"2022-02-27","series":"NVDA US Equity","pe":53.6},{"date":"2022-03-07","series":"NVDA US Equity","pe":51.8},{"date":"2022-03-16","series":"NVDA US Equity","pe":62.5},{"date":"2022-03-24","series":"NVDA US Equity","pe":70.5},{"date":"2022-04-02","series":"NVDA US Equity","pe":62.5},{"date":"2022-04-10","series":"NVDA US Equity","pe":51.8},{"date":"2022-04-18","series":"NVDA US Equity","pe":48.2},{"date":"2022-04-30","series":"NVDA US Equity","pe":46.4},{"date":"2022-05-10","series":"NVDA US Equity","pe":39.3},{"date":"2022-05-17","series":"NVDA US Equity","pe":36.6},{"date":"2022-05-25","series":"NVDA US Equity","pe":44.6},{"date":"2022-06-02","series":"NVDA US Equity","pe":38.4},{"date":"2022-06-11","series":"NVDA US Equity","pe":37.5},{"date":"2022-06-21","series":"NVDA US Equity","pe":33.9},{"date":"2022-07-01","series":"NVDA US Equity","pe":36.6},{"date":"2022-07-12","series":"NVDA US Equity","pe":36.6},{"date":"2022-07-23","series":"NVDA US Equity","pe":42.9},{"date":"2022-08-02","series":"NVDA US Equity","pe":52.7},{"date":"2022-08-12","series":"NVDA US Equity","pe":50.0},{"date":"2022-08-20","series":"NVDA US Equity","pe":44.6},{"date":"2022-08-30","series":"NVDA US Equity","pe":38.4},{"date":"2022-09-09","series":"NVDA US Equity","pe":36.6},{"date":"2022-09-20","series":"NVDA US Equity","pe":35.7},{"date":"2022-10-01","series":"NVDA US Equity","pe":33.9},{"date":"2022-10-11","series":"NVDA US Equity","pe":31.3},{"date":"2022-10-21","series":"NVDA US Equity","pe":32.1},{"date":"2022-10-29","series":"NVDA US Equity","pe":44.6},{"date":"2022-11-07","series":"NVDA US Equity","pe":48.2},{"date":"2022-11-15","series":"NVDA US Equity","pe":57.1},{"date":"2022-11-27","series":"NVDA US Equity","pe":58.9},{"date":"2022-12-06","series":"NVDA US Equity","pe":55.4},{"date":"2022-12-13","series":"NVDA US Equity","pe":60.7},{"date":"2022-12-22","series":"NVDA US Equity","pe":55.4},{"date":"2022-12-30","series":"NVDA US Equity","pe":47.3},
                {"date":"2023-01-08","series":"NVDA US Equity","pe":52.7},{"date":"2023-01-16","series":"NVDA US Equity","pe":64.3},{"date":"2023-01-25","series":"NVDA US Equity","pe":83.9},{"date":"2023-02-02","series":"NVDA US Equity","pe":91.1},{"date":"2023-02-10","series":"NVDA US Equity","pe":92.9},{"date":"2023-02-19","series":"NVDA US Equity","pe":85.7},{"date":"2023-02-26","series":"NVDA US Equity","pe":96.4},{"date":"2023-03-08","series":"NVDA US Equity","pe":99.1},{"date":"2023-03-15","series":"NVDA US Equity","pe":107.1},{"date":"2023-03-22","series":"NVDA US Equity","pe":111.6},{"date":"2023-03-31","series":"NVDA US Equity","pe":110.7},{"date":"2023-04-07","series":"NVDA US Equity","pe":115.2},{"date":"2023-04-16","series":"NVDA US Equity","pe":108.9},{"date":"2023-04-26","series":"NVDA US Equity","pe":115.2},{"date":"2023-04-30","series":"NVDA US Equity","pe":128.6},{"date":"2023-05-06","series":"NVDA US Equity","pe":134.8},{"date":"2023-05-13","series":"NVDA US Equity","pe":141.1},{"date":"2023-05-17","series":"NVDA US Equity","pe":146.4},{"date":"2023-05-21","series":"NVDA US Equity","pe":175.0},{"date":"2023-05-27","series":"NVDA US Equity","pe":182.1},{"date":"2023-06-03","series":"NVDA US Equity","pe":171.4},{"date":"2023-06-10","series":"NVDA US Equity","pe":192.9},{"date":"2023-06-17","series":"NVDA US Equity","pe":201.8},{"date":"2023-06-22","series":"NVDA US Equity","pe":189.3},{"date":"2023-06-28","series":"NVDA US Equity","pe":185.7},{"date":"2023-07-05","series":"NVDA US Equity","pe":194.6},{"date":"2023-07-12","series":"NVDA US Equity","pe":212.5},{"date":"2023-07-17","series":"NVDA US Equity","pe":218.8},{"date":"2023-07-22","series":"NVDA US Equity","pe":205.4},{"date":"2023-07-26","series":"NVDA US Equity","pe":210.7},{"date":"2023-07-29","series":"NVDA US Equity","pe":139.3},{"date":"2023-07-31","series":"NVDA US Equity","pe":106.3},{"date":"2023-08-09","series":"NVDA US Equity","pe":100.0},{"date":"2023-08-15","series":"NVDA US Equity","pe":92.9},{"date":"2023-08-21","series":"NVDA US Equity","pe":103.6},{"date":"2023-08-29","series":"NVDA US Equity","pe":107.1},{"date":"2023-09-07","series":"NVDA US Equity","pe":100.0},{"date":"2023-09-15","series":"NVDA US Equity","pe":94.6},{"date":"2023-09-23","series":"NVDA US Equity","pe":100.0},{"date":"2023-10-02","series":"NVDA US Equity","pe":105.4},{"date":"2023-10-12","series":"NVDA US Equity","pe":104.5},{"date":"2023-10-19","series":"NVDA US Equity","pe":92.9},{"date":"2023-10-24","series":"NVDA US Equity","pe":83.9},{"date":"2023-10-28","series":"NVDA US Equity","pe":50.9},{"date":"2023-11-05","series":"NVDA US Equity","pe":57.1},{"date":"2023-11-13","series":"NVDA US Equity","pe":61.6},{"date":"2023-11-23","series":"NVDA US Equity","pe":62.5},{"date":"2023-12-03","series":"NVDA US Equity","pe":58.0},{"date":"2023-12-14","series":"NVDA US Equity","pe":62.5},{"date":"2023-12-25","series":"NVDA US Equity","pe":60.7},
                {"date":"2024-01-04","series":"NVDA US Equity","pe":66.1},{"date":"2024-01-14","series":"NVDA US Equity","pe":78.6},{"date":"2024-01-22","series":"NVDA US Equity","pe":62.5},{"date":"2024-01-28","series":"NVDA US Equity","pe":50.9},{"date":"2024-02-05","series":"NVDA US Equity","pe":60.7},{"date":"2024-02-13","series":"NVDA US Equity","pe":62.5},{"date":"2024-02-22","series":"NVDA US Equity","pe":57.1},{"date":"2024-03-01","series":"NVDA US Equity","pe":73.2},{"date":"2024-03-10","series":"NVDA US Equity","pe":76.8},{"date":"2024-03-18","series":"NVDA US Equity","pe":72.3},{"date":"2024-03-28","series":"NVDA US Equity","pe":75.0},{"date":"2024-04-07","series":"NVDA US Equity","pe":64.3},{"date":"2024-04-15","series":"NVDA US Equity","pe":71.4},{"date":"2024-04-25","series":"NVDA US Equity","pe":68.8},{"date":"2024-05-05","series":"NVDA US Equity","pe":77.7},{"date":"2024-05-10","series":"NVDA US Equity","pe":78.6},{"date":"2024-05-15","series":"NVDA US Equity","pe":33.9},{"date":"2024-05-17","series":"NVDA US Equity","pe":32.1}
              ]},
              "mark": {"type": "line", "strokeWidth": 4},
              "encoding": {
                "x": {"field": "date", "type": "temporal",
                      "scale": {"type": "utc", "range": [105, 902], "domain": [{"year": 2019, "month": 5, "date": 17, "utc": true}, {"year": 2024, "month": 5, "date": 17, "utc": true}]},
                      "axis": {"format": "%d-%b-%y", "labelExpr": "utcyear(datum.value) == 2024 ? '17-May-\u00a0\u00a0' : datum.label",
                               "values": [{"year": 2019, "month": 5, "date": 17, "utc": true}, {"year": 2020, "month": 5, "date": 17, "utc": true}, {"year": 2021, "month": 5, "date": 17, "utc": true}, {"year": 2022, "month": 5, "date": 17, "utc": true}, {"year": 2023, "month": 5, "date": 17, "utc": true}, {"year": 2024, "month": 5, "date": 17, "utc": true}]}},
                "y": {"field": "pe", "type": "quantitative", "scale": {"domain": [0, 250], "nice": false}, "axis": {"values": [0, 50, 100, 150, 200, 250], "offset": -105}},
                "color": {"field": "series", "type": "nominal",
                          "scale": {"domain": ["SOX Index", "NVDA US Equity", "SPX Index"], "range": ["#0d2a5c", "#ed7d31", "#8a8a8a"]},
                          "legend": {"columns": 3, "gridAlign": "each", "columnPadding": 27, "symbolSize": 2916, "symbolStrokeWidth": 4, "legendX": 176, "legendY": 763}}
              }
            }
          ]
        }
      ],
      "columns": 1,
      "align": "none",
      "spacing": 50
    }
  ]
}
